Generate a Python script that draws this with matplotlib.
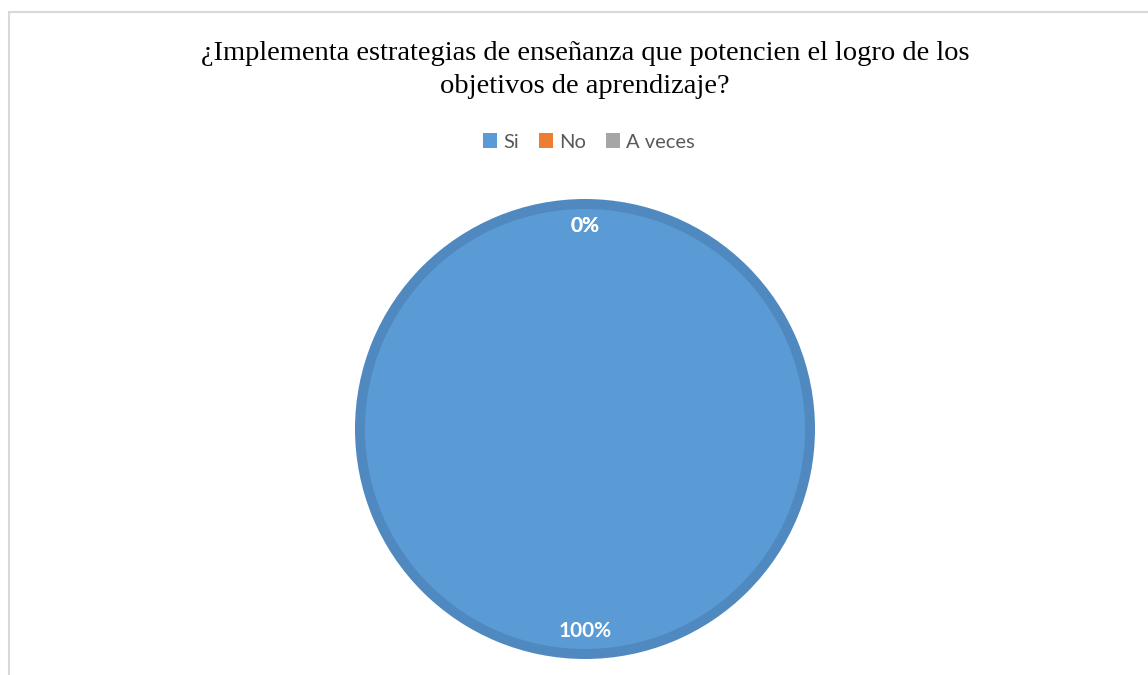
import numpy as np
import matplotlib.pyplot as plt
from matplotlib.patches import Patch, Rectangle

categories = ["Si", "No", "A veces"]
values = [100, 0, 0]
colors = ["#5B9BD5", "#ED7D31", "#A5A5A5"]
title = u"\u00bfImplementa estrategias de ense\u00f1anza que potencien el logro de los\nobjetivos de aprendizaje?"

W, H = 1148, 675
fig = plt.figure(figsize=(W / 100, H / 100), dpi=100)

# light frame of the chart area (right/bottom cut off in the reference)
fig.patches.append(Rectangle((9 / W, -0.1), 1.2, 1 - 12 / H + 0.1, transform=fig.transFigure,
                             fill=False, edgecolor="#D9D9D9", linewidth=1.5))

fig.text(585 / W, 1 - 70 / H, title, ha="center", va="center", fontsize=20.5,
         family="Liberation Serif", color="black", linespacing=1.38)

# pie axes: square box of 500 px centred on the pie
cx, cy, half = 585, 429, 250
ax = fig.add_axes([(cx - half) / W, (H - cy - half) / H, 2 * half / W, 2 * half / H])

wedges, texts, autotexts = ax.pie(values, colors=colors, startangle=90, counterclock=False,
                                  radius=0.9, autopct="%1.0f%%", pctdistance=0.9,
                                  wedgeprops=dict(edgecolor="#4F89C0", linewidth=7.2),
                                  textprops=dict(color="white", fontsize=15, fontweight="bold",
                                                 family="Lato"))
for w, v in zip(wedges, values):
    if v == 0:
        w.set_linewidth(0)
ax.set_xlim(-1, 1)
ax.set_ylim(-1, 1)
ax.set_aspect("equal")
ax.axis("off")

handles = [Patch(facecolor=c, edgecolor="none", label=l) for c, l in zip(colors, categories)]
fig.legend(handles=handles, loc="center", bbox_to_anchor=(589 / W, 1 - 142 / H), ncol=3,
           frameon=False, handlelength=0.7, handleheight=0.7, handletextpad=0.3,
           columnspacing=1.0, prop=dict(family="Lato", size=14.5), labelcolor="#595959")

fig.savefig("out.png", dpi=100)
